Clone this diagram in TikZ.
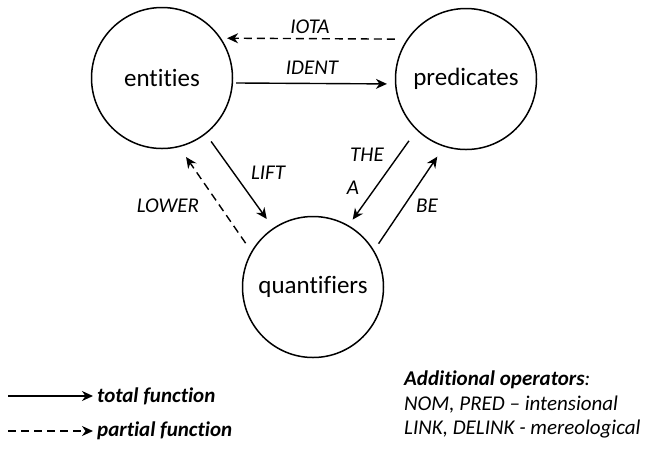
\documentclass[tikz,border=0pt]{standalone}
\usepackage{fontspec}
\setmainfont{Carlito}[Ligatures=NoCommon]
\usetikzlibrary{arrows.meta}

\begin{document}
\begin{tikzpicture}[x=1pt,y=-1pt]
\tikzstyle{every node}=[font=\fontsize{21}{25}\selectfont]
\tikzstyle{set}=[draw, circle, line width=1.5pt, minimum size=141pt, inner sep=0pt, font=\fontsize{25}{29}\selectfont]
\tikzstyle{total}=[line width=1.4pt, -{Stealth[length=11pt,width=10pt,inset=3.5pt]}]
\tikzstyle{partial}=[total, dash pattern=on 8pt off 5pt]
\tikzstyle{fname}=[font=\fontsize{21}{25}\selectfont\itshape]
\useasboundingbox (0,0) rectangle (648,451);

\node[set] (entities) at (162,78) {entities};
\node[set] (predicates) at (466,79) {predicates};
\node[set] (quantifiers) at (313,287) {quantifiers};

% between entities and predicates
\draw[partial, shorten <=12pt, shorten >=6pt] (predicates.146) -- (entities.34);
\draw[total, shorten <=3pt, shorten >=8pt] (entities.-4) -- (predicates.184);
\node[fname] (iota) at (310,27) {IOTA};
\node[fname] (ident) at (312,68) {IDENT};

% between entities and quantifiers
\draw[total, shorten <=9pt, shorten >=11pt] (entities.-52) -- (quantifiers.124);
\draw[partial, shorten <=10pt, shorten >=12pt] (quantifiers.150) -- (entities.-76);
\node[fname] (lift) at (268,173) {LIFT};
\node[fname] (lower) at (168,206) {LOWER};

% between predicates and quantifiers
\draw[total, shorten <=13pt, shorten >=7pt] (predicates.226) -- (quantifiers.60);
\draw[total, shorten <=8pt, shorten >=12pt] (quantifiers.31) -- (predicates.-108);
\node[fname] (the) at (367,155) {THE};
\node[fname] (a) at (353,188) {A};
\node[fname] (be) at (427,206) {BE};

% legend
\coordinate (totalstart) at (8,396);
\coordinate (partialstart) at (8,431);
\node[anchor=west, inner sep=0pt, font=\fontsize{21}{25}\selectfont\bfseries\itshape] (totallabel) at (97,396) {total function};
\node[anchor=west, inner sep=0pt, font=\fontsize{21}{25}\selectfont\bfseries\itshape] (partiallabel) at (97,431) {partial function};
\draw[total, shorten >=4pt] (totalstart) -- (totallabel.west);
\draw[partial, shorten >=4pt] (partialstart) -- (partiallabel.west);

\node[anchor=north west, inner sep=0pt, align=left, font=\fontsize{21}{24.5}\selectfont\itshape] (extra) at (404,371)
	{\textbf{Additional operators}:\\NOM, PRED -- intensional\\LINK, DELINK - mereological};
\end{tikzpicture}
\end{document}
